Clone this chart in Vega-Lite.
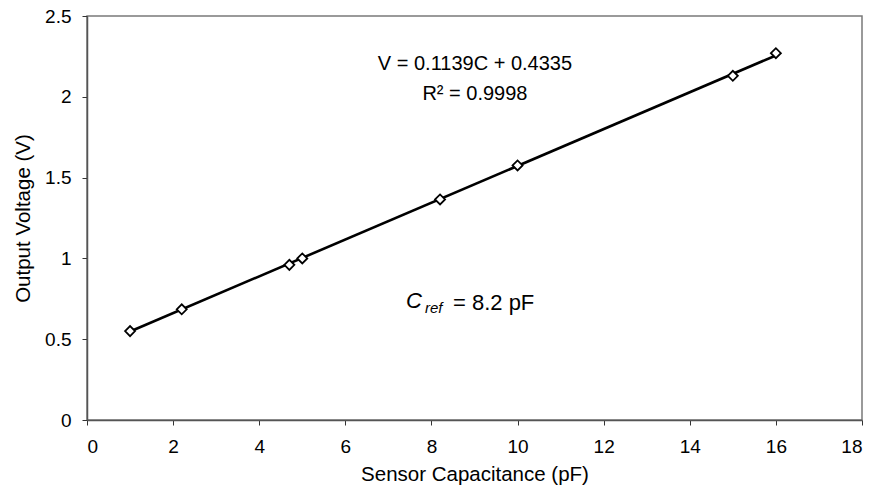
{
  "$schema": "https://vega.github.io/schema/vega-lite/v6.json",
  "width": 775,
  "height": 404,
  "autosize": {"type": "none"},
  "padding": {"left": 87, "top": 16, "right": 13, "bottom": 71},
  "background": "white",
  "config": {
    "font": "Liberation Sans",
    "view": {"stroke": "#7a7a7a", "strokeWidth": 1.5},
    "axis": {
      "grid": false,
      "domainColor": "#555",
      "domainWidth": 1.5,
      "tickColor": "#333",
      "tickSize": 5,
      "labelFont": "Liberation Sans",
      "labelFontSize": 19,
      "labelColor": "#000",
      "titleFont": "Liberation Sans",
      "titleFontSize": 20.5,
      "titleFontWeight": "normal",
      "titleColor": "#000"
    }
  },
  "datasets": {
    "points": [
      {"C": 1.0, "V": 0.55},
      {"C": 2.2, "V": 0.685},
      {"C": 4.7, "V": 0.96},
      {"C": 5.0, "V": 1.0},
      {"C": 8.2, "V": 1.365},
      {"C": 10.0, "V": 1.575},
      {"C": 15.0, "V": 2.13},
      {"C": 16.0, "V": 2.27}
    ],
    "fit": [
      {"C": 1.0, "V": 0.5474},
      {"C": 16.0, "V": 2.2559}
    ]
  },
  "layer": [
    {
      "data": {"name": "fit"},
      "mark": {"type": "line", "color": "black", "strokeWidth": 2.6},
      "encoding": {
        "x": {"field": "C", "type": "quantitative",
              "scale": {"domain": [0, 18], "nice": false, "zero": true},
              "axis": {"title": "Sensor Capacitance (pF)", "values": [0,2,4,6,8,10,12,14,16,18], "labelPadding": 12, "titlePadding": 8}},
        "y": {"field": "V", "type": "quantitative",
              "scale": {"domain": [0, 2.5], "nice": false},
              "axis": {"title": "Output Voltage (V)", "values": [0,0.5,1,1.5,2,2.5], "format": "~g", "labelPadding": 11, "titlePadding": 11}}
      }
    },
    {
      "data": {"name": "points"},
      "mark": {"type": "point", "shape": "diamond", "filled": true, "fill": "white", "stroke": "black", "strokeWidth": 1.8, "size": 100, "opacity": 1},
      "encoding": {
        "x": {"field": "C", "type": "quantitative"},
        "y": {"field": "V", "type": "quantitative"}
      }
    },
    {
      "data": {"values": [
        {"x": 9.01, "y": 2.166, "t": "V = 0.1139C + 0.4335"},
        {"x": 9.01, "y": 1.98, "t": "R² = 0.9998"}
      ]},
      "mark": {"type": "text", "align": "center", "baseline": "alphabetic", "fontSize": 20, "color": "black"},
      "encoding": {
        "x": {"field": "x", "type": "quantitative"},
        "y": {"field": "y", "type": "quantitative"},
        "text": {"field": "t"}
      }
    },
    {
      "data": {"values": [{"x": 7.409, "y": 0.693, "t": "C"}]},
      "mark": {"type": "text", "align": "left", "baseline": "alphabetic", "fontSize": 22, "fontStyle": "italic", "color": "black"},
      "encoding": {
        "x": {"field": "x", "type": "quantitative"},
        "y": {"field": "y", "type": "quantitative"},
        "text": {"field": "t"}
      }
    },
    {
      "data": {"values": [{"x": 7.85, "y": 0.662, "t": "ref"}]},
      "mark": {"type": "text", "align": "left", "baseline": "alphabetic", "fontSize": 15, "fontStyle": "italic", "color": "black"},
      "encoding": {
        "x": {"field": "x", "type": "quantitative"},
        "y": {"field": "y", "type": "quantitative"},
        "text": {"field": "t"}
      }
    },
    {
      "data": {"values": [{"x": 8.5, "y": 0.681, "t": "= 8.2 pF"}]},
      "mark": {"type": "text", "align": "left", "baseline": "alphabetic", "fontSize": 22, "color": "black"},
      "encoding": {
        "x": {"field": "x", "type": "quantitative"},
        "y": {"field": "y", "type": "quantitative"},
        "text": {"field": "t"}
      }
    }
  ]
}
